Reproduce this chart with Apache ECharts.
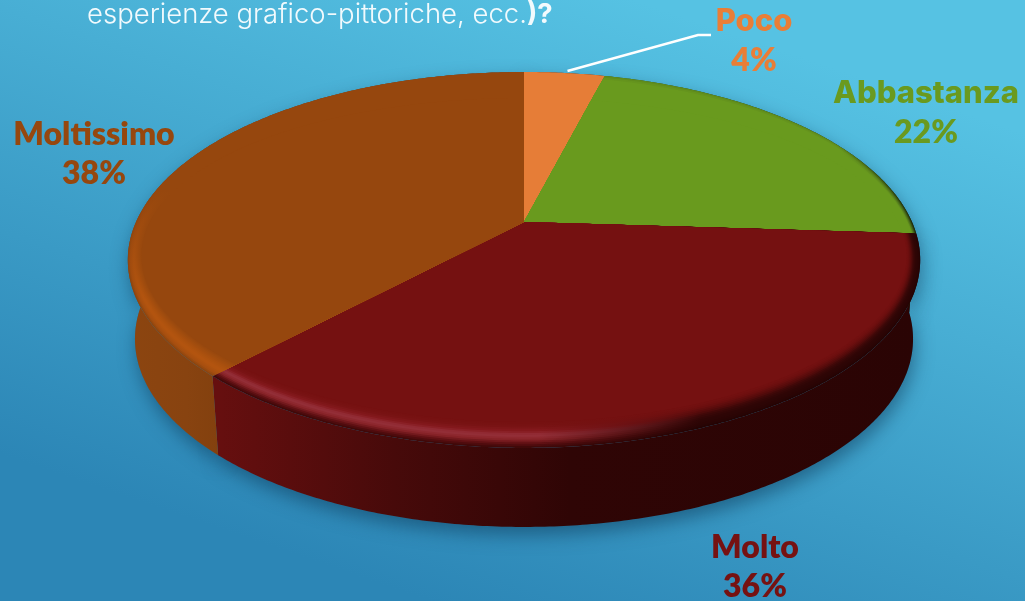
<!DOCTYPE html>
<html><head><meta charset="utf-8">
<style>html,body{margin:0;padding:0;background:#3fa3cc}#c{width:1025px;height:601px}</style>
<script src="https://cdn.jsdelivr.net/npm/echarts@6/dist/echarts.min.js"></script>
</head><body><div id="c"></div>
<script>
var categories = ['Poco', 'Abbastanza', 'Molto', 'Moltissimo'];
var values = [4, 22, 36, 38];
var colors = ['#e67d37', '#699a1e', '#751111', '#96470e'];
var labelColors = ['#e97e37', '#6a9a1f', '#761212', '#96470e'];

// perspective disc layout
var CX = 524, CY = 222, A = 388, B = 180.3, K = 0.202, DEPTH = 79, BOTTOM_X = 0.982;
var BEVEL_X = 14, BEVEL_Y = 26, RINGS = 14;
var labelCentres = { Poco: [754, 21.5], Abbastanza: [926, 93.5], Molto: [755, 547.5], Moltissimo: [94, 134.5] };
var nameFonts = { Poco: '800 31px Inter', Abbastanza: '800 31px Inter', Molto: '800 32px Lato', Moltissimo: '800 32px Lato' };
var LINE_H = 39;
var leaderElbows = { Poco: [[698, 35], [711, 35]] };

var wallStops = [
  [[0, '#95490f'], [1, '#84400e']],
  [[0, '#4f7416'], [1, '#1e2a08']],
  [[0, '#660f0f'], [0.25, '#470a0a'], [0.5, '#2f0505'], [1, '#2a0404']],
  [[0, '#8c4510'], [0.6, '#884310'], [1, '#82400e']]
];
var wallX = [[500, 700], [600, 920], [220, 920], [128, 225]];
// bevel: gradient axis, its range, and keys [depth into bevel, colour at range start, colour at range end]
var bevels = {
  Abbastanza: { axis: 'x', from: 840, to: 916, keys: [
    [0, '#5f8c1c', '#1d2a08'], [0.12, '#699a1e', '#40601a'], [0.3, '#699a1e', '#699a1e'], [1, '#699a1e', '#699a1e'] ] },
  Molto: { axis: 'x', from: 540, to: 700, keys: [
    [0, '#400909', '#240303'], [0.12, '#5a0d10', '#2a0404'], [0.3, '#8a2429', '#2e0505'],
    [0.46, '#95303a', '#3a0707'], [0.62, '#85191d', '#560b0b'], [0.82, '#771212', '#6e0f0f'], [1, '#751111', '#751111'] ] },
  Moltissimo: { axis: 'y', from: 190, to: 300, keys: [
    [0, '#96470e', '#8c4510'], [0.14, '#96470e', '#a64e0f'], [0.4, '#96470e', '#b4550f'],
    [0.65, '#96470e', '#aa500e'], [1, '#96470e', '#96470e'] ] }
};

var total = values.reduce(function (a, b) { return a + b; }, 0);
var edges = [0];
values.forEach(function (v, i) { edges.push(edges[i] + v / total * Math.PI * 2); });

function project(t, f) {
  var d = 1 + K * Math.cos(t);
  return [CX + A * Math.sin(t) / d - Math.sin(t) * BEVEL_X * (f || 0),
          CY - B * Math.cos(t) / d + Math.cos(t) * BEVEL_Y * (f || 0)];
}
function lower(t) {
  var p = project(t, 0);
  return [CX + (p[0] - CX) * BOTTOM_X, p[1] + DEPTH];
}
function arc(t0, t1, fn) {
  var n = Math.max(2, Math.ceil((t1 - t0) / 0.01)), out = [];
  for (var i = 0; i <= n; i++) out.push(fn(t0 + (t1 - t0) * i / n));
  return out;
}
// the angle at which the inset rim f meets the straight edge of the slice at angle t0
function edgeAngle(t0, f) {
  var e = project(t0, 0), ex = e[0] - CX, ey = e[1] - CY;
  function side(t) { var p = project(t, f); return ex * (p[1] - CY) - ey * (p[0] - CX); }
  var lo = t0 - 0.4, hi = t0 + 0.4, sl = side(lo);
  for (var n = 0; n < 30; n++) {
    var m = (lo + hi) / 2, sm = side(m);
    if ((sm > 0) === (sl > 0)) { lo = m; sl = sm; } else { hi = m; }
  }
  return (lo + hi) / 2;
}
function sector(i, f) {
  var a = f ? edgeAngle(edges[i], f) : edges[i], b = f ? edgeAngle(edges[i + 1], f) : edges[i + 1];
  return [[CX, CY]].concat(arc(a, b, function (t) { return project(t, f); }));
}
function wall(i) {
  var top = arc(edges[i], edges[i + 1], function (t) { return project(t, 0); });
  var bot = arc(edges[i], edges[i + 1], lower).reverse();
  return top.concat(bot);
}
function hGrad(x0, x1, stops) {
  return { type: 'linear', global: true, x: x0, y: 0, x2: x1, y2: 0,
    colorStops: stops.map(function (s) { return { offset: s[0], color: s[1] }; }) };
}
function rgb(h) { return [1, 3, 5].map(function (k) { return parseInt(h.substr(k, 2), 16); }); }
function mix(a, b, u) {
  var x = rgb(a), y = rgb(b);
  return 'rgb(' + x.map(function (v, k) { return Math.round(v + (y[k] - v) * u); }).join(',') + ')';
}
function keyColours(keys, f) {
  for (var i = 1; i < keys.length; i++) {
    if (f <= keys[i][0]) {
      var u = (f - keys[i - 1][0]) / (keys[i][0] - keys[i - 1][0]);
      return [mix(keys[i - 1][1], keys[i][1], u), mix(keys[i - 1][2], keys[i][2], u)];
    }
  }
  var l = keys[keys.length - 1];
  return [l[1], l[2]];
}

function renderShadow(p) {
  return { type: 'polygon', shape: { points: wall(p.dataIndex) },
    style: { fill: '#2a6f96', shadowBlur: 18, shadowColor: 'rgba(10,50,80,0.5)', shadowOffsetY: 8, shadowOffsetX: 2 } };
}
function renderWall(p) {
  var i = p.dataIndex;
  return { type: 'polygon', shape: { points: wall(i) },
    style: { fill: hGrad(wallX[i][0], wallX[i][1], wallStops[i]) } };
}
function renderTop(p) {
  var i = p.dataIndex, bev = bevels[categories[i]], kids = [];
  if (bev) {
    for (var r = 0; r < RINGS; r++) {
      var f = r / RINGS, c = keyColours(bev.keys, f);
      var grad = { type: 'linear', global: true,
        x: bev.axis === 'x' ? bev.from : 0, y: bev.axis === 'y' ? bev.from : 0,
        x2: bev.axis === 'x' ? bev.to : 0, y2: bev.axis === 'y' ? bev.to : 0,
        colorStops: [{ offset: 0, color: c[0] }, { offset: 1, color: c[1] }] };
      kids.push({ type: 'polygon', shape: { points: sector(i, f) }, style: { fill: grad } });
    }
  }
  kids.push({ type: 'polygon', shape: { points: sector(i, bev ? 1 : 0) }, style: { fill: colors[i] } });
  return { type: 'group', children: kids };
}
function renderLabel(p) {
  var i = p.dataIndex, name = categories[i], c = labelCentres[name], kids = [];
  if (leaderElbows[name]) {
    var mid = project((edges[i] + edges[i + 1]) / 2, 0);
    kids.push({ type: 'polyline', shape: { points: [[mid[0] + 3, mid[1] - 2]].concat(leaderElbows[name]) },
      style: { stroke: '#ffffff', lineWidth: 2.4, fill: null } });
  }
  kids.push({ type: 'text', style: { text: name, x: c[0], y: c[1], fill: labelColors[i],
    font: nameFonts[name], align: 'center', verticalAlign: 'middle' } });
  kids.push({ type: 'text', style: { text: values[i] + '%', x: c[0], y: c[1] + LINE_H, fill: labelColors[i],
    font: '800 32px Lato', align: 'center', verticalAlign: 'middle' } });
  return { type: 'group', children: kids };
}
function layer(fn, z) {
  return { type: 'custom', coordinateSystem: 'none', silent: true, animation: false, clip: false, z: z,
    renderItem: fn, data: values.map(function (v, i) { return { name: categories[i], value: v }; }) };
}

var chart = echarts.init(document.getElementById('c'), null, { renderer: 'canvas' });
chart.setOption({
  animation: false,
  backgroundColor: { type: 'linear', x: 0.62, y: 0, x2: 0.42, y2: 1,
    colorStops: [{ offset: 0, color: '#56c2e3' }, { offset: 1, color: '#2c86b6' }] },
  title: {
    left: 87, top: -3, padding: 0,
    text: '{a|esperienze grafico-pittoriche, ecc.}{b|)?}',
    textStyle: { rich: {
      a: { fontFamily: 'Inter', fontSize: 27.5, color: '#f2fafd', lineHeight: 36, fontWeight: 300 },
      b: { fontFamily: 'Inter', fontSize: 27.5, color: '#f2fafd', lineHeight: 36, fontWeight: 'bold' }
    } }
  },
  series: [layer(renderShadow, 1), layer(renderWall, 2), layer(renderTop, 3), layer(renderLabel, 4)]
});
</script></body></html>
